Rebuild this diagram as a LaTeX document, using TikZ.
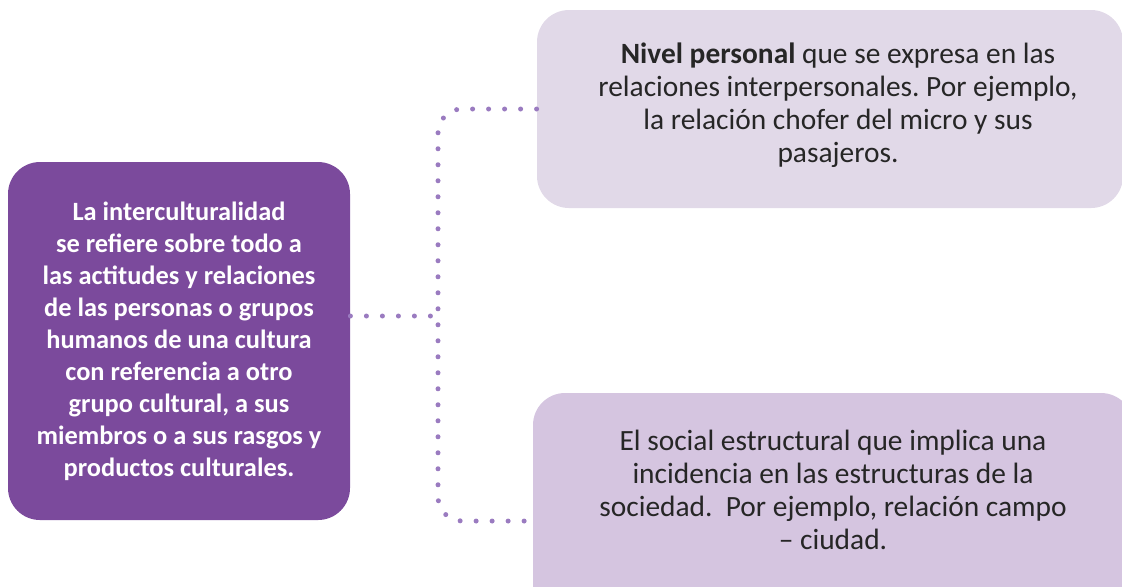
\documentclass[tikz,border=0pt]{standalone}
\usepackage{fontspec}
\setmainfont{Carlito}
\usetikzlibrary{positioning}
\frenchspacing

\definecolor{morado}{HTML}{7B4A9C}
\definecolor{lila}{HTML}{E1D9E8}
\definecolor{lilaosc}{HTML}{D5C5E0}
\definecolor{punto}{HTML}{9A7BC0}
\definecolor{texto}{HTML}{262626}

\begin{document}
\begin{tikzpicture}[x=0.5pt, y=-0.5pt,
    caja/.style={rounded corners=16pt, align=center, inner sep=0pt},
    letra/.style={text=texto, align=center, font=\fontsize{14.7}{16.6}\selectfont},
    puntos/.style={draw=punto, line width=2.5pt, line cap=round,
        dash pattern=on 0pt off 8pt}]
    \clip (0,0) rectangle (1122,586);
    \node[caja, fill=morado, text=white, minimum width=171pt, minimum height=179pt,
        font=\fontsize{13.2}{16}\selectfont\bfseries] (cultura) at (179,341)
        {La interculturalidad\\ se refiere sobre todo a\\ las actitudes y relaciones\\
         de las personas o grupos\\ humanos de una cultura\\ con referencia a otro\\
         grupo cultural, a sus\\ miembros o a sus rasgos y\\ productos culturales.};
    \node[caja, fill=lila, minimum width=293pt, minimum height=99pt] (personal) at (830,109) {};
    \node[letra] (personaltxt) at (838,105)
        {\textbf{Nivel personal} que se expresa en las\\ relaciones interpersonales. Por ejemplo,\\
         la relación chofer del micro y sus\\ pasajeros.};
    \node[caja, fill=lilaosc, minimum width=300pt, minimum height=128pt] (social) at (833,521) {};
    \node[letra] (socialtxt) at (833,490)
        {El social estructural que implica una\\ incidencia en las estructuras de la\\
         sociedad.\ \ Por ejemplo, relación campo\\ – ciudad.};
    % lineas punteadas
    \coordinate (centro) at (438,316);
    \draw[puntos] (cultura.east |- centro) -- (centro);
    \draw[puntos, rounded corners=12pt] (personal.west) -| (centro) |- (social.west);
\end{tikzpicture}
\end{document}
